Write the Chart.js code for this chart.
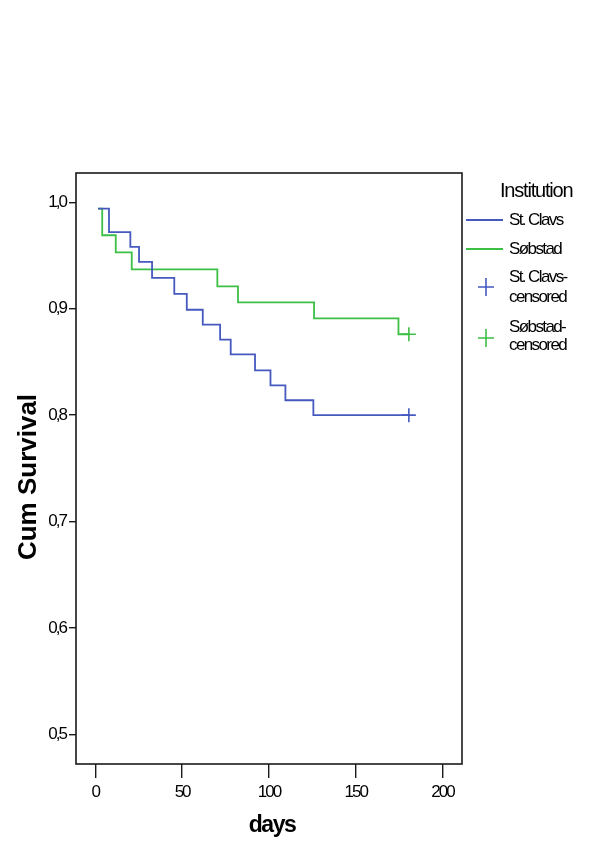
<!DOCTYPE html>
<html lang="en">
<head>
<meta charset="UTF-8" />
<title>Cum Survival by Institution</title>
<script src="https://cdn.jsdelivr.net/npm/chart.js"></script>
<style>
  html, body { margin: 0; padding: 0; background: #fff; }
  #wrap { width: 600px; height: 849px; }
</style>
</head>
<body>
<div id="wrap"><canvas id="survChart" width="600" height="849"></canvas></div>
<script>
// Kaplan-Meier steps (days, cumulative survival)
const clavsDays = [1.6, 7.9, 20.2, 25.2, 32.7, 45.5, 52.7, 61.9, 71.9, 78, 92, 100.9, 109.5, 125.6, 180.6];
const clavsSurv = [0.994, 0.972, 0.958, 0.944, 0.929, 0.914, 0.899, 0.885, 0.871, 0.857, 0.842, 0.828, 0.814, 0.800, 0.800];
const sobDays = [1.6, 4, 11.8, 21, 70.3, 82.2, 126, 174.6, 180.6];
const sobSurv = [0.994, 0.969, 0.953, 0.937, 0.921, 0.906, 0.891, 0.876, 0.876];
const clavsCensDays = [180.6];
const clavsCensSurv = [0.800];
const sobCensDays = [180.6];
const sobCensSurv = [0.876];

const xTicks = [0, 50, 100, 150, 200];
const yTicks = [0.5, 0.6, 0.7, 0.8, 0.9, 1.0];

const BLUE = "#4659be";
const GREEN = "#3cbf45";
const FONT = '"Liberation Sans", Arial, sans-serif';

function pts(xs, ys) {
  return xs.map((x, i) => ({ x: x, y: ys[i] }));
}

// frame, axis titles and legend
const decorations = {
  id: "decorations",
  beforeDraw(chart) {
    // narrow look of the tick labels
    chart.ctx.letterSpacing = "-2px";
  },
  afterDraw(chart) {
    const ctx = chart.ctx;
    const a = chart.chartArea;
    const ds = chart.data.datasets;
    ctx.save();
    ctx.strokeStyle = "#1a1a1a";
    ctx.lineWidth = 1.6;
    ctx.strokeRect(a.left, a.top, a.right - a.left, a.bottom - a.top);

    ctx.fillStyle = "#000";
    ctx.textBaseline = "middle";
    ctx.textAlign = "center";
    ctx.letterSpacing = "-1.5px";
    ctx.font = "bold 23px " + FONT;
    ctx.fillText("days", 272, 826);

    ctx.save();
    ctx.letterSpacing = "0px";
    ctx.font = "bold 26px " + FONT;
    ctx.translate(29, 477);
    ctx.rotate(-Math.PI / 2);
    ctx.fillText("Cum Survival", 0, 0);
    ctx.restore();

    // legend
    ctx.textAlign = "left";
    ctx.letterSpacing = "-1.2px";
    ctx.font = "20px " + FONT;
    ctx.fillText("Institution", 500, 191);

    ctx.letterSpacing = "-1.6px";
    ctx.font = "17px " + FONT;
    ctx.lineWidth = 1.8;
    ctx.strokeStyle = ds[0].borderColor;
    ctx.beginPath(); ctx.moveTo(466, 220); ctx.lineTo(503, 220); ctx.stroke();
    ctx.fillText(ds[0].label, 509, 220);
    ctx.strokeStyle = ds[1].borderColor;
    ctx.beginPath(); ctx.moveTo(466, 249); ctx.lineTo(503, 249); ctx.stroke();
    ctx.fillText(ds[1].label, 509, 249);

    const crossAt = (cx, cy, color) => {
      ctx.strokeStyle = color;
      ctx.lineWidth = 1.6;
      ctx.beginPath();
      ctx.moveTo(cx, cy - 9); ctx.lineTo(cx, cy + 9);
      ctx.moveTo(cx - 8, cy); ctx.lineTo(cx + 8, cy);
      ctx.stroke();
    };
    crossAt(486, 287, ds[2].borderColor);
    ctx.fillText(ds[0].label + "-", 509, 277);
    ctx.fillText("censored", 509, 297);
    crossAt(486, 338, ds[3].borderColor);
    ctx.fillText(ds[1].label + "-", 509, 327);
    ctx.fillText("censored", 509, 345);
    ctx.restore();
  }
};

const ctx = document.getElementById("survChart").getContext("2d");
const survChart = new Chart(ctx, {
  type: "line",
  data: {
    datasets: [
      {
        label: "St. Clavs",
        data: pts(clavsDays, clavsSurv),
        borderColor: BLUE,
        borderWidth: 1.8,
        stepped: true,
        pointRadius: 0,
        fill: false
      },
      {
        label: "Søbstad",
        data: pts(sobDays, sobSurv),
        borderColor: GREEN,
        borderWidth: 1.8,
        stepped: true,
        pointRadius: 0,
        fill: false
      },
      {
        label: "St. Clavs-censored",
        data: pts(clavsCensDays, clavsCensSurv),
        borderColor: BLUE,
        showLine: false,
        pointStyle: "cross",
        pointRadius: 7,
        pointBorderWidth: 1.6
      },
      {
        label: "Søbstad-censored",
        data: pts(sobCensDays, sobCensSurv),
        borderColor: GREEN,
        showLine: false,
        pointStyle: "cross",
        pointRadius: 7,
        pointBorderWidth: 1.6
      }
    ]
  },
  options: {
    responsive: false,
    animation: false,
    layout: { padding: { top: 173, right: 138, left: 0, bottom: 0 } },
    plugins: {
      legend: { display: false },
      tooltip: { enabled: false }
    },
    scales: {
      x: {
        type: "linear",
        min: -11.1,
        max: 211.2,
        afterFit: (s) => { s.height = 85; },
        afterBuildTicks: (s) => { s.ticks = xTicks.map((v) => ({ value: v })); },
        border: { display: false },
        grid: { drawOnChartArea: false, drawTicks: true, tickLength: 14, color: "#1a1a1a", lineWidth: 1.4 },
        ticks: { color: "#000", font: { family: FONT, size: 17 }, padding: 4, maxRotation: 0 }
      },
      y: {
        type: "linear",
        min: 0.4722,
        max: 1.0275,
        afterFit: (s) => { s.width = 76; },
        afterBuildTicks: (s) => { s.ticks = yTicks.map((v) => ({ value: v })); },
        border: { display: false },
        grid: { drawOnChartArea: false, drawTicks: true, tickLength: 7, color: "#1a1a1a", lineWidth: 1.4 },
        ticks: {
          color: "#000",
          font: { family: FONT, size: 17 },
          padding: 3,
          callback: (v) => v.toFixed(1).replace(".", ",")
        }
      }
    }
  },
  plugins: [decorations]
});
</script>
</body>
</html>
